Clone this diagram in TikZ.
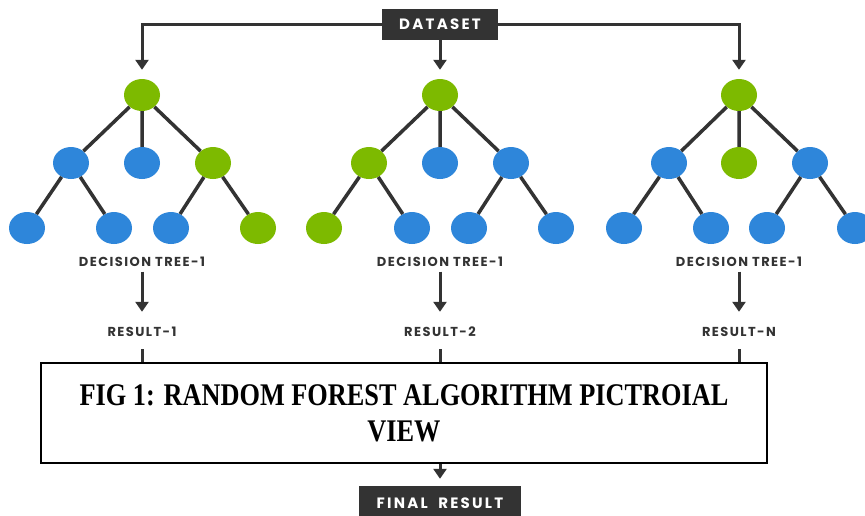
\documentclass[tikz,border=0pt]{standalone}
\usepackage{fontspec}
\usepackage{graphicx}
\usetikzlibrary{arrows.meta,shapes.geometric}
\newfontfamily\tagfont{Poppins}[LetterSpace=11]
\newfontfamily\boxfont{Poppins}[LetterSpace=15]
\newfontfamily\capfont{Liberation Serif}
\newcommand{\narrow}[1]{\scalebox{0.835}[1]{#1}}
\definecolor{leafgreen}{HTML}{7DBA00}
\definecolor{leafblue}{HTML}{2E86DA}
\definecolor{inkgray}{HTML}{333333}
\begin{document}
\begin{tikzpicture}[x=1pt,y=-1pt,
  every node/.style={font=\tagfont\bfseries\fontsize{13}{15}\selectfont,text=inkgray},
  gn/.style={ellipse,fill=leafgreen,minimum width=36pt,minimum height=32pt,inner sep=0pt},
  bn/.style={ellipse,fill=leafblue,minimum width=36pt,minimum height=32pt,inner sep=0pt},
  edge/.style={line width=3.5pt,inkgray},
  flow/.style={line width=3pt,inkgray,-{Triangle[width=13pt,length=10pt]}},
  tag/.style={text height=9pt,text depth=0pt,inner sep=0pt},
  darkbox/.style={fill=inkgray,text=white,text height=10pt,text depth=0pt,inner sep=0pt,
    font=\boxfont\bfseries\fontsize{15}{17}\selectfont}]
\clip (0,0) rectangle (865,515);
\fill[white] (0,0) rectangle (865,515);
\node[darkbox,minimum width=116pt,minimum height=31pt] (data) at (440,24.5) {DATASET};
% tree 1
\begin{scope}[xshift=142pt]
\node[gn] (t1r) at (0,95) {};
\node[bn] (t1a) at (-71,163) {};
\node[bn] (t1b) at (0,163) {};
\node[gn] (t1c) at (71,163) {};
\node[bn] (t1d) at (-115,228) {};
\node[bn] (t1e) at (-28,228) {};
\node[bn] (t1f) at (29,228) {};
\node[gn] (t1g) at (116,228) {};
\end{scope}
% tree 2
\begin{scope}[xshift=440pt]
\node[gn] (t2r) at (0,95) {};
\node[gn] (t2a) at (-71,163) {};
\node[bn] (t2b) at (0,163) {};
\node[bn] (t2c) at (71,163) {};
\node[gn] (t2d) at (-116,228) {};
\node[bn] (t2e) at (-28,228) {};
\node[bn] (t2f) at (29,228) {};
\node[bn] (t2g) at (116,228) {};
\end{scope}
% tree 3
\begin{scope}[xshift=739pt]
\node[gn] (t3r) at (0,95) {};
\node[bn] (t3a) at (-70,163) {};
\node[gn] (t3b) at (0,163) {};
\node[bn] (t3c) at (71,163) {};
\node[bn] (t3d) at (-115,228) {};
\node[bn] (t3e) at (-28,228) {};
\node[bn] (t3f) at (28,228) {};
\node[bn] (t3g) at (116,228) {};
\end{scope}
\foreach \t in {1,2,3}{
  \draw[edge] (t\t r) -- (t\t a) (t\t r) -- (t\t b) (t\t r) -- (t\t c)
    (t\t a) -- (t\t d) (t\t a) -- (t\t e) (t\t c) -- (t\t f) (t\t c) -- (t\t g);
}
\draw[flow,shorten >=9pt] (data.west) -| (t1r);
\draw[flow,shorten >=9pt] (data) -- (t2r);
\draw[flow,shorten >=9pt] (data.east) -| (t3r);
% labels and results
\node[tag] (dt1) at (142,261.5) {DECISION TREE-1};
\node[tag] (dt2) at (440,261.5) {DECISION TREE-1};
\node[tag] (dt3) at (739,261.5) {DECISION TREE-1};
\node[tag] (res1) at (142,332) {RESULT-1};
\node[tag] (res2) at (440,332) {RESULT-2};
\node[tag] (res3) at (739,332) {RESULT-N};
\foreach \t in {1,2,3}{
  \draw[flow,shorten <=5.5pt,shorten >=15.5pt] (dt\t) -- (res\t);
}
\node[darkbox,minimum width=162pt,minimum height=34pt] (final) at (440,503) {FINAL\hspace{5pt} RESULT};
\coordinate (merge) at (440,430);
\draw[line width=3pt,inkgray,shorten <=12.5pt] (res1) |- (merge);
\draw[line width=3pt,inkgray,shorten <=12.5pt] (res3) |- (merge);
\draw[flow,shorten <=12.5pt,shorten >=7pt] (res2) -- (final);
% caption box on top
\node[draw=black,line width=1.3pt,fill=white,minimum width=726pt,minimum height=100pt,
  align=center,text=black,font=\capfont\bfseries\fontsize{31.5}{36}\selectfont] (cap) at (404,413)
  {\narrow{FIG 1: RANDOM FOREST ALGORITHM PICTROIAL}\\\narrow{VIEW}};
\end{tikzpicture}
\end{document}
